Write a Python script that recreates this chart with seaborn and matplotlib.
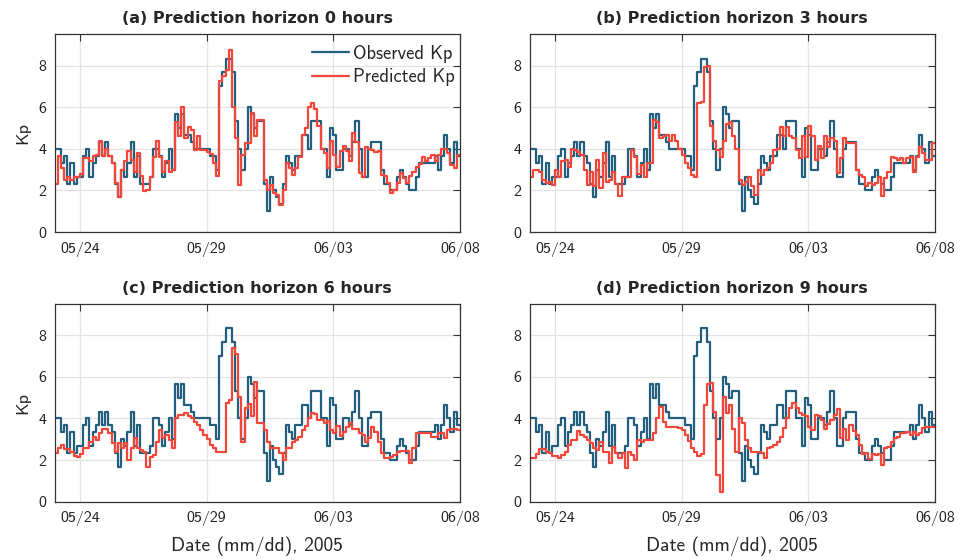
import matplotlib
matplotlib.use("Agg")
import numpy as np
import pandas as pd
import seaborn as sns
import matplotlib.pyplot as plt
import matplotlib.dates as mdates

# ---------------- data (3-hourly Kp, 2005-05-23 00:00 .. 2005-06-07 21:00) ----------------
observed = [
    4.0, 4.0, 3.33, 3.67, 2.33, 3.33, 2.33, 2.67, 2.67, 3.67,
    4.0, 2.67, 3.33, 3.67, 4.33, 3.67, 4.33, 3.67, 3.33, 2.33,
    1.67, 3.0, 2.67, 3.33, 4.33, 2.67, 3.67, 2.33, 2.33, 2.33,
    2.67, 4.0, 4.0, 3.67, 2.67, 3.33, 4.0, 3.0, 5.67, 5.0,
    5.67, 4.67, 4.67, 4.33, 4.0, 4.0, 4.0, 4.0, 4.0, 3.67,
    3.67, 3.0, 7.0, 7.67, 8.33, 8.33, 7.67, 5.33, 4.0, 3.0,
    4.0, 6.0, 5.67, 5.0, 5.33, 5.33, 2.33, 1.0, 2.67, 2.0,
    1.67, 1.33, 2.33, 3.67, 3.33, 3.0, 3.67, 3.67, 4.67, 4.67,
    4.0, 5.33, 5.33, 5.33, 4.0, 4.0, 2.67, 5.0, 4.67, 3.0,
    3.0, 4.0, 4.0, 3.67, 4.33, 5.33, 4.0, 2.67, 2.67, 4.0,
    4.33, 4.33, 4.33, 3.0, 2.33, 2.33, 2.0, 2.0, 2.67, 3.0,
    2.67, 2.33, 2.0, 2.0, 2.67, 3.33, 3.33, 3.33, 3.33, 3.33,
    3.67, 3.0, 3.67, 4.67, 4.0, 3.33, 4.33, 3.67,
]
pred_0h = [
    2.33, 3.67, 3.1, 2.5, 2.67, 2.5, 2.67, 2.67, 2.8, 3.55,
    3.55, 3.4, 3.65, 3.7, 4.4, 3.65, 4.0, 3.65, 3.3, 2.35,
    1.7, 3.0, 3.4, 3.9, 3.45, 2.9, 3.8, 2.7, 1.95, 2.0,
    2.65, 3.6, 4.4, 3.6, 2.9, 3.4, 2.9, 3.0, 5.3, 4.6,
    6.0, 4.5, 5.06, 4.9, 3.95, 4.6, 3.95, 3.95, 3.85, 3.75,
    3.3, 2.7, 7.27, 7.5, 7.8, 8.77, 6.0, 4.5, 2.27, 3.7,
    4.3, 4.3, 5.7, 4.6, 5.4, 5.4, 2.5, 2.0, 2.27, 1.9,
    1.8, 1.3, 2.0, 3.3, 3.1, 2.75, 3.1, 3.6, 4.67, 5.0,
    6.0, 6.2, 5.9, 5.1, 4.0, 3.8, 3.07, 4.4, 3.7, 3.15,
    3.9, 4.14, 3.9, 3.4, 4.75, 4.35, 2.83, 2.67, 4.1, 4.0,
    3.95, 3.85, 3.9, 2.75, 2.7, 2.35, 1.87, 2.0, 2.35, 2.83,
    2.6, 2.35, 2.7, 2.9, 3.15, 3.25, 3.63, 3.4, 3.55, 3.7,
    3.4, 3.7, 4.0, 4.0, 3.8, 3.2, 3.1, 3.7,
]
pred_3h = [
    2.67, 3.0, 3.0, 2.9, 2.5, 2.35, 2.4, 2.27, 3.0, 2.67,
    3.4, 3.45, 3.15, 4.0, 3.95, 3.85, 3.7, 3.0, 2.27, 2.9,
    2.2, 3.47, 2.1, 3.8, 2.4, 2.5, 2.9, 2.3, 1.74, 2.67,
    2.67, 2.67, 3.95, 3.6, 2.8, 3.2, 2.67, 3.3, 3.3, 5.4,
    5.3, 4.5, 4.6, 4.67, 4.4, 4.67, 4.4, 4.0, 3.7, 3.3,
    3.07, 2.75, 2.67, 6.2, 6.26, 7.94, 8.0, 5.1, 4.4, 3.95,
    3.6, 4.4, 5.2, 5.3, 4.6, 4.0, 2.5, 2.27, 2.4, 2.67,
    2.2, 1.8, 3.0, 2.75, 3.0, 3.07, 3.3, 3.95, 4.0, 5.06,
    4.6, 5.06, 4.6, 4.5, 3.95, 3.55, 4.6, 3.63, 5.1, 4.6,
    3.47, 4.14, 3.55, 4.6, 4.1, 4.5, 4.4, 2.83, 3.55, 4.54,
    4.26, 4.26, 4.26, 3.0, 2.75, 2.67, 2.2, 2.35, 2.27, 2.35,
    2.67, 1.74, 2.6, 2.9, 3.63, 3.55, 3.47, 3.55, 3.3, 3.55,
    3.63, 2.9, 3.63, 4.1, 3.8, 3.47, 3.47, 4.26,
]
pred_6h = [
    2.32, 2.56, 2.72, 2.55, 2.54, 2.4, 2.2, 2.15, 2.28, 2.6,
    2.6, 2.88, 3.1, 2.96, 3.3, 3.5, 3.5, 3.3, 2.8, 2.4,
    2.8, 2.56, 2.8, 2.0, 2.56, 3.05, 2.56, 2.48, 2.4, 1.68,
    2.16, 2.24, 2.88, 3.45, 3.05, 3.2, 2.96, 2.56, 4.0, 4.17,
    4.17, 4.25, 4.1, 4.0, 3.85, 3.7, 3.45, 3.2, 3.0, 2.72,
    2.56, 2.4, 2.4, 2.4, 4.73, 4.9, 7.37, 7.08, 5.05, 2.88,
    4.5, 4.68, 4.1, 5.74, 3.77, 3.77, 3.45, 2.88, 2.56, 2.56,
    2.56, 2.32, 2.0, 2.56, 2.6, 2.88, 2.96, 3.1, 3.45, 3.65,
    4.0, 4.25, 4.2, 3.93, 3.93, 3.77, 3.9, 3.45, 3.3, 3.65,
    3.17, 3.35, 3.6, 3.77, 3.5, 3.5, 3.3, 3.2, 2.88, 3.05,
    3.6, 3.35, 2.88, 2.32, 2.08, 2.12, 2.16, 2.24, 2.4, 2.45,
    2.44, 2.44, 1.84, 2.56, 3.3, 3.3, 3.3, 3.3, 3.3, 3.1,
    3.12, 3.3, 3.3, 3.04, 3.45, 3.5, 3.5, 3.45,
]
pred_9h = [
    2.1, 2.1, 2.3, 2.53, 2.53, 2.4, 2.32, 2.2, 2.2, 2.08,
    2.24, 2.4, 2.72, 2.96, 2.96, 3.4, 3.2, 3.1, 2.96, 2.8,
    2.6, 2.5, 2.88, 2.4, 2.4, 1.84, 2.64, 2.32, 2.08, 2.32,
    1.6, 2.4, 2.24, 2.0, 2.96, 2.88, 2.96, 2.96, 2.96, 3.3,
    4.0, 4.57, 3.85, 3.6, 3.6, 3.6, 3.58, 3.55, 3.45, 3.2,
    2.9, 2.56, 2.4, 2.2, 2.28, 4.65, 5.64, 5.7, 4.33, 1.28,
    0.48, 5.05, 4.25, 4.65, 3.5, 2.4, 4.0, 3.77, 2.96, 2.6,
    2.4, 2.4, 2.4, 2.36, 2.08, 2.56, 2.64, 2.72, 2.88, 3.12,
    3.56, 4.0, 4.5, 4.73, 4.5, 4.25, 4.17, 4.1, 3.6, 3.45,
    4.17, 4.1, 3.93, 3.5, 3.75, 3.93, 4.17, 4.45, 3.04, 3.5,
    2.96, 3.68, 3.4, 3.2, 2.72, 2.28, 2.35, 2.05, 2.3, 2.24,
    2.3, 1.76, 2.56, 2.64, 2.88, 3.04, 3.12, 3.3, 3.3, 3.35,
    3.2, 3.35, 3.2, 3.3, 3.52, 3.6, 3.6, 3.6,
]
titles = [
    "(a) Prediction horizon 0 hours",
    "(b) Prediction horizon 3 hours",
    "(c) Prediction horizon 6 hours",
    "(d) Prediction horizon 9 hours",
]
tick_dates = ["2005-05-24", "2005-05-29", "2005-06-03", "2005-06-08"]
start_time = "2005-05-23"

BLUE = "#235f7d"
RED = "#f1473a"

sns.set_style("whitegrid")
plt.rcParams["font.family"] = ["cmss10", "DejaVu Sans"]
plt.rcParams["axes.unicode_minus"] = False

times = pd.date_range(start_time, periods=len(observed) + 1, freq="3h")


def frame(vals):
    v = list(vals) + [vals[-1]]
    return pd.DataFrame({"time": times, "Kp": v})


fig, axes = plt.subplots(2, 2, figsize=(9.71, 5.6), dpi=100)
fig.subplots_adjust(left=0.0563, right=0.9629, bottom=0.1041, top=0.9386,
                    wspace=0.172, hspace=0.364)

preds = [pred_0h, pred_3h, pred_6h, pred_9h]
for i, (ax, title, pred) in enumerate(zip(axes.flat, titles, preds)):
    sns.lineplot(data=frame(observed), x="time", y="Kp", ax=ax, estimator=None,
                 drawstyle="steps-post", color=BLUE, lw=1.6, label="Observed Kp")
    sns.lineplot(data=frame(pred), x="time", y="Kp", ax=ax, estimator=None,
                 drawstyle="steps-post", color=RED, lw=1.6, label="Predicted Kp")
    ax.set_xlim(times[0], times[-1])
    ax.set_ylim(0, 9.5)
    ax.set_yticks([0, 2, 4, 6, 8])
    ax.set_xticks(pd.to_datetime(tick_dates))
    ax.xaxis.set_major_formatter(mdates.DateFormatter("%m/%d"))
    ax.grid(True, color="#e3e3e3", lw=0.9)
    ax.tick_params(direction="in", top=True, right=True, length=5, width=0.8,
                   color="#333333", labelsize=11.5, labelcolor="#222222")
    ax.tick_params(axis="x", pad=7)
    ax.tick_params(axis="y", pad=6)
    for sp in ax.spines.values():
        sp.set_color("#333333")
        sp.set_linewidth(0.9)
    ax.set_title(title, fontsize=11.5, fontweight="bold", family="DejaVu Sans", pad=8)
    ax.set_ylabel("Kp" if i % 2 == 0 else "", fontsize=13, labelpad=6)
    ax.set_xlabel("Date (mm/dd), 2005" if i >= 2 else "", fontsize=14, labelpad=7)
    if i == 0:
        ax.legend(loc="upper right", bbox_to_anchor=(1.0, 0.975), frameon=False,
                  fontsize=13.3, handlelength=2.0, handletextpad=0.2,
                  labelspacing=0.3, borderaxespad=0.0, borderpad=0.3)
    else:
        ax.get_legend().remove()

fig.savefig("out.png", dpi=100)
